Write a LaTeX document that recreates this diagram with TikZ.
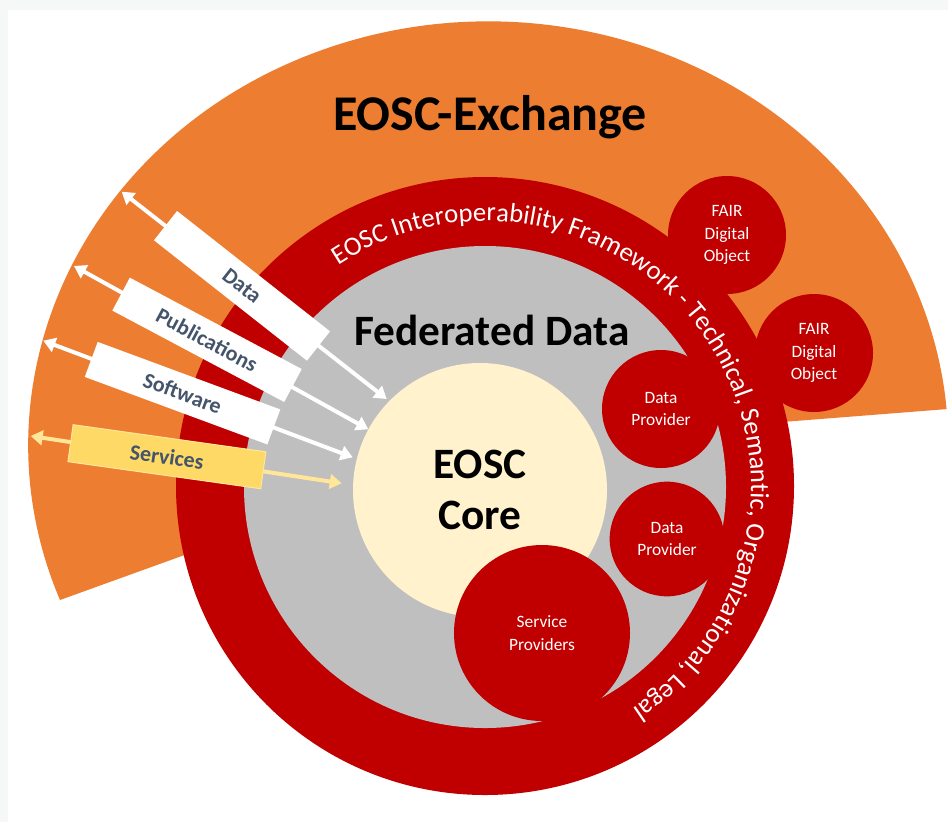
\documentclass[tikz,border=0pt]{standalone}
\usepackage{fontspec}
\setmainfont{Carlito}
\usetikzlibrary{arrows.meta,decorations.text}

\definecolor{eoscorange}{HTML}{ED7D31}
\definecolor{eoscred}{HTML}{C00000}
\definecolor{fedgray}{HTML}{BFBFBF}
\definecolor{corecream}{HTML}{FFF2CC}
\definecolor{svcyellow}{HTML}{FFD966}
\definecolor{svcarrow}{HTML}{FFE699}
\definecolor{labelblue}{HTML}{44546A}
\definecolor{stripgray}{HTML}{F6F7F7}

\tikzset{every picture/.style={line width=0.75pt}}
\tikzset{
  flow/.style={line width=3pt, {Triangle[width=11pt,length=9pt]}-{Triangle[width=11pt,length=9pt]}},
  tag/.style={fill=white, minimum width=146pt, minimum height=28pt, inner sep=0pt, text=labelblue, font=\bfseries\fontsize{16.5}{20}\selectfont},
  member/.style={circle, fill=eoscred, text=white, align=center, inner sep=0pt, font=\fontsize{13}{17}\selectfont},
}

\begin{document}
\begin{tikzpicture}[x=0.75pt,y=0.75pt,yscale=-1,xscale=1]
\useasboundingbox (0,0) rectangle (948,822);

%Frame
\fill[white] (0,0) rectangle (948,822);
\fill[stripgray] (0,0) rectangle (948,10);
\fill[stripgray] (0,0) rectangle (8,822);

%Sector [exchange]
\fill[eoscorange] (489,445) -- (60,600) arc[start angle=158.6, end angle=355.1, x radius=460, y radius=424] -- cycle;

%Circle [framework ring]
\fill[eoscred] (485,486) circle[radius=309];
%Circle [federated data]
\fill[fedgray] (485,487) circle[radius=241];

%Circle Nodes
\node[member, minimum size=88.5pt] (fair1) at (727,235) {FAIR\\Digital\\Object};
\node[member, minimum size=88.5pt] (fair2) at (814,353) {FAIR\\Digital\\Object};
\node[circle, fill=corecream, minimum size=190.5pt, inner sep=0pt, align=center, font=\bfseries\fontsize{32.5}{38}\selectfont] (core) at (480,490) {EOSC\\Core};
\node[member, minimum size=88.5pt] (prov1) at (661,409) {Data\\Provider};
\node[member, minimum size=86pt] (prov2) at (667,539) {Data\\Provider};
\node[member, minimum size=132pt] (servprov) at (542,633) {Service\\Providers};

%Arrows
\coordinate (data-out) at (121.7,191.7);
\coordinate (data-in) at (386.7,399);
\coordinate (pub-out) at (74,266);
\coordinate (pub-in) at (368.3,429.3);
\coordinate (soft-out) at (43.3,340.7);
\coordinate (soft-in) at (352.7,457.3);
\coordinate (serv-out) at (30.7,436);
\coordinate (serv-in) at (341.7,483.3);

\draw[flow, white] (data-out) -- node[tag, pos=0.454, rotate=-38.2] (data) {Data} (data-in);
\draw[flow, white] (pub-out) -- node[tag, pos=0.452, rotate=-28] (pubs) {Publications} (pub-in);
\draw[flow, white] (soft-out) -- node[tag, pos=0.45, rotate=-20.3] (soft) {Software} (soft-in);
\draw[flow, svcarrow] (serv-out) -- node[tag, pos=0.438, rotate=-8, fill=svcyellow, draw=svcarrow, line width=0.75pt] (serv) {Services} (serv-in);

%Curved Text
\path[decorate, decoration={text along path, text align=center, text color=white,
  text={|\fontsize{20}{24}\selectfont|EOSC Interoperability Framework - Technical{,} Semantic{,} Organizational{,} Legal}}]
  (485,487) ++(-124:266) arc[start angle=-124, end angle=57, radius=266];

% Text Node
\node[font=\bfseries\fontsize{37.5}{45}\selectfont] (exchange) at (490,117) {EOSC-Exchange};
% Text Node
\node[font=\bfseries\fontsize{32.5}{39}\selectfont] (feddata) at (492,330) {Federated Data};

\end{tikzpicture}
\end{document}
